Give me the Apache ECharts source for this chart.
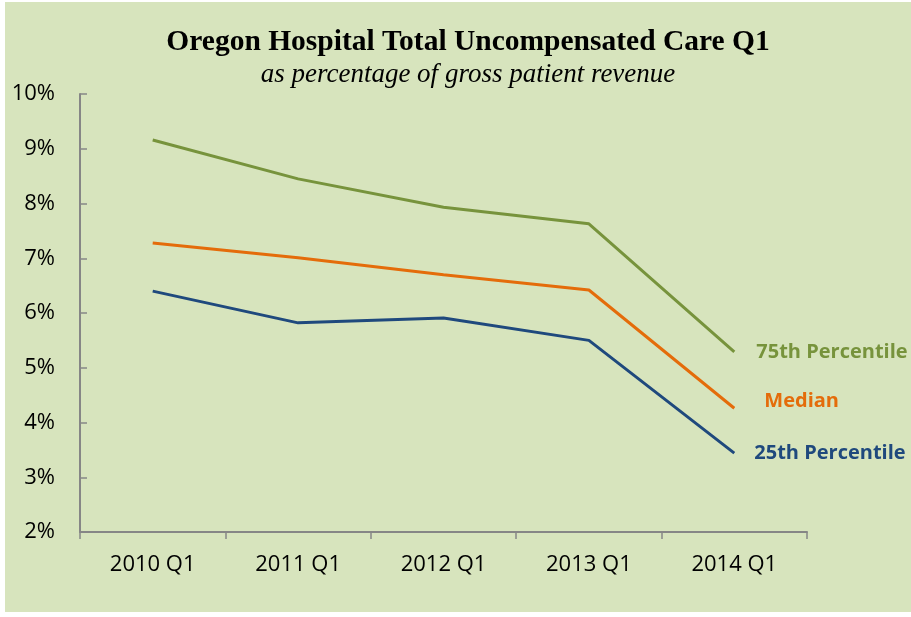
<!DOCTYPE html>
<html>
<head>
<meta charset="utf-8">
<script src="https://cdn.jsdelivr.net/npm/echarts@6/dist/echarts.min.js"></script>
<style>
  html, body { margin: 0; padding: 0; background: #ffffff; }
  #chart { position: absolute; left: 5px; top: 2px; width: 906px; height: 610px; background: #d7e4bd; }
</style>
</head>
<body>
<div id="chart"></div>
<script>
// quarters on the x axis
const quarters = ["2010 Q1", "2011 Q1", "2012 Q1", "2013 Q1", "2014 Q1"];

// uncompensated care, % of gross patient revenue
const pct75 = [9.16, 8.45, 7.93, 7.63, 5.29];
const median = [7.28, 7.01, 6.70, 6.42, 4.26];
const pct25 = [6.40, 5.82, 5.91, 5.50, 3.44];

const chart = echarts.init(document.getElementById("chart"), null, { renderer: "canvas" });

const labelFont = { fontFamily: "Open Sans", fontWeight: "bold", fontSize: 20 };

function line(name, data, color, offset) {
  return {
    name,
    type: "line",
    data,
    symbol: "none",
    smooth: false,
    lineStyle: { color, width: 3 },
    itemStyle: { color },
    endLabel: {
      show: true,
      formatter: name,
      color,
      offset,
      ...labelFont,
    },
    animation: false,
  };
}

chart.setOption({
  title: {
    text: "Oregon Hospital Total Uncompensated Care Q1",
    subtext: "as percentage of gross patient revenue",
    left: 458,
    textAlign: "center",
    top: 20,
    itemGap: 4,
    textStyle: {
      fontFamily: "Liberation Serif",
      fontWeight: "bold",
      fontSize: 29.5,
      color: "#000000",
    },
    subtextStyle: {
      fontFamily: "Liberation Serif",
      fontStyle: "italic",
      fontSize: 27,
      color: "#000000",
    },
  },
  grid: { left: 75, right: 104, top: 92, bottom: 80 },
  xAxis: {
    type: "category",
    data: quarters,
    boundaryGap: true,
    axisLine: { lineStyle: { color: "#868686", width: 2 } },
    axisTick: { show: true, length: 7, lineStyle: { color: "#868686", width: 1.5 } },
    axisLabel: { color: "#000000", fontFamily: "Open Sans", fontSize: 22, margin: 22 },
  },
  yAxis: {
    type: "value",
    min: 2,
    max: 10,
    interval: 1,
    axisLine: { show: true, lineStyle: { color: "#868686", width: 2 } },
    axisTick: { show: true, inside: true, length: 7, lineStyle: { color: "#868686", width: 1.5 } },
    splitLine: { show: false },
    axisLabel: {
      color: "#000000",
      fontFamily: "Open Sans",
      fontSize: 22,
      margin: 25,
      formatter: (v) => v + "%",
    },
  },
  series: [
    line("75th Percentile", pct75, "#77933c", [14, 0]),
    line("Median", median, "#e46c0a", [22, -7]),
    line("25th Percentile", pct25, "#1f497d", [12, 0]),
  ],
});
</script>
</body>
</html>
